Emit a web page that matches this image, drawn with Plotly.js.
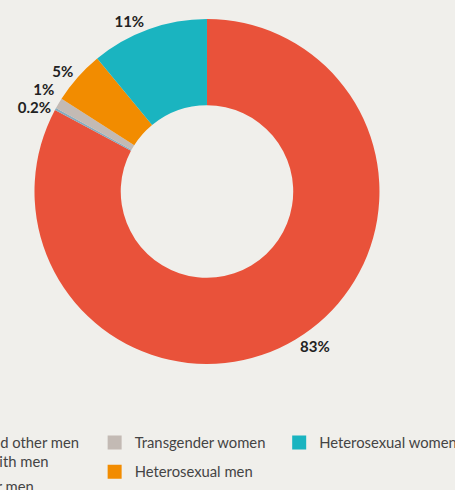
<!DOCTYPE html>
<html>
<head>
<meta charset="utf-8">
<script src="https://cdn.plot.ly/plotly-3.0.1.min.js"></script>
<style>
  html, body { margin: 0; padding: 0; background: #F0EFEB; }
  #chart { width: 455px; height: 490px; }
  #chart path.textline { stroke-opacity: 0 !important; }
</style>
</head>
<body>
<div id="chart"></div>
<script>
// Data
const categories = [
  "Gay, bisexual and other men<br>who have sex with men",
  "Transgender men",
  "Transgender women",
  "Heterosexual men",
  "Heterosexual women"
];
const shares = [83, 0.2, 1, 5, 11];
const shareLabels = ["83%", "0.2%", "1%", "5%", "11%"];
const colors = ["#E9523A", "#86ABBE", "#C3BAB4", "#F28C00", "#1AB4C0"];
// legend column placement for each category (which legend box)
const legendOf = ["legend", "legend4", "legend2", "legend2", "legend3"];

const BG = "#F0EFEB";

const pie = {
  type: "pie",
  labels: categories,
  values: shares,
  text: shareLabels,
  textinfo: "text",
  textposition: "outside",
  sort: false,
  direction: "clockwise",
  rotation: 0,
  hole: 0.5,
  showlegend: false,
  marker: { colors: colors, line: { width: 0 } },
  outsidetextfont: { family: "Lato", size: 15, color: "#222222", weight: "bold" },
  domain: { x: [0.0758, 0.834], y: [0.2571, 0.9612] },
  hoverinfo: "label+text"
};

const legendTraces = categories.map((c, i) => ({
  type: "scatter",
  mode: "markers",
  x: [null],
  y: [null],
  name: c,
  legend: legendOf[i],
  legendgroup: "g" + i,
  marker: { symbol: "square", size: 14, color: colors[i] },
  hoverinfo: "skip"
}));

const legFont = { family: "Lato", size: 14.8, color: "#444444" };
const baseLeg = {
  orientation: "v",
  bgcolor: "rgba(0,0,0,0)",
  borderwidth: 0,
  font: legFont,
  xref: "paper",
  yref: "paper",
  xanchor: "left",
  yanchor: "top",
  tracegroupgap: 7,
  itemclick: false,
  itemdoubleclick: false
};

const layout = {
  width: 455,
  height: 490,
  paper_bgcolor: BG,
  plot_bgcolor: BG,
  margin: { l: 0, r: 0, t: 0, b: 0, autoexpand: false },
  xaxis: { visible: false },
  yaxis: { visible: false },
  font: { family: "Lato" },
  legend: Object.assign({}, baseLeg, { x: -0.316, y: 0.13 }),
  legend2: Object.assign({}, baseLeg, { x: 0.208, y: 0.13 }),
  legend3: Object.assign({}, baseLeg, { x: 0.6136, y: 0.13 }),
  legend4: Object.assign({}, baseLeg, { x: -0.258, y: 0.04 })
};

Plotly.newPlot("chart", [pie].concat(legendTraces), layout, { displayModeBar: false });
</script>
</body>
</html>
